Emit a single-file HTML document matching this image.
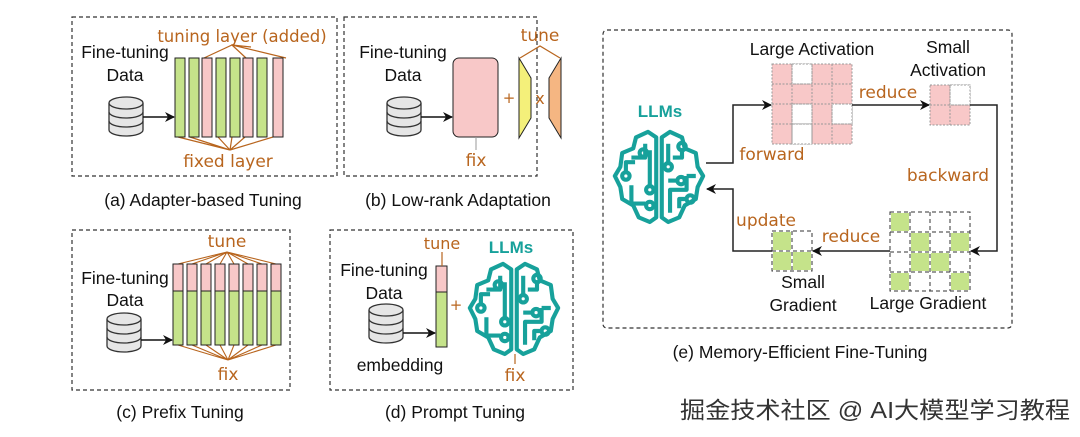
<!DOCTYPE html>
<html><head><meta charset="utf-8"><style>
html,body{margin:0;padding:0;background:#fff;}
svg{display:block;}
.t{font-family:"Liberation Sans",sans-serif;fill:#111;}
.o{font-family:"DejaVu Sans","Liberation Sans",sans-serif;fill:#b8651e;}
</style></head><body>
<svg width="1080" height="437" viewBox="0 0 1080 437" xmlns="http://www.w3.org/2000/svg">
<defs>
<marker id="ar" markerWidth="10" markerHeight="10" refX="9" refY="5" orient="auto" markerUnits="userSpaceOnUse"><path d="M0,0 L10,5 L0,10 L3,5 z" fill="#111"/></marker>
<g id="db">
<path d="M0,6 v27 a17,6 0 0 0 34,0 v-27" fill="#e6e6e6" stroke="#333" stroke-width="1.3"/>
<ellipse cx="17" cy="6" rx="17" ry="6" fill="#e6e6e6" stroke="#333" stroke-width="1.3"/>
<path d="M0,15 a17,6 0 0 0 34,0 M0,24 a17,6 0 0 0 34,0" fill="none" stroke="#333" stroke-width="1.3"/>
</g>
<g id="brain" fill="none" stroke="#17a19b" stroke-width="4.5" stroke-linejoin="round">
<path d="M47,8 L38,2 L25,8 L22,20 L10,25 L8,40 L2,50 L8,62 L10,75 L22,82 L28,95 L40,100 L47,95 Z"/>
<path d="M53,8 L62,2 L75,8 L78,20 L90,25 L92,40 L98,50 L92,62 L90,75 L78,82 L72,95 L60,100 L53,95 Z"/>
<path d="M20,30 H35 V15"/>
<path d="M14,45 V35 H24"/><circle cx="14" cy="50" r="4"/>
<path d="M40,22 V60"/><circle cx="40" cy="65" r="4"/>
<path d="M20,60 V80 H35"/><circle cx="40" cy="82" r="4"/>
<circle cx="33" cy="25" r="4"/>
<path d="M60,15 V35"/><circle cx="60" cy="40" r="4"/>
<path d="M65,30 H75 V22"/><circle cx="75" cy="18" r="4"/>
<path d="M60,55 H70"/><circle cx="74" cy="55" r="4"/>
<path d="M80,50 H90 M80,50 V65 H62 V90"/>
<path d="M72,85 V75 H80"/><circle cx="84" cy="75" r="4"/>
</g>
</defs>
<g fill="none" stroke="#333" stroke-width="1.2" stroke-dasharray="4,3">
<rect x="72" y="17" width="265" height="159"/>
<rect x="344" y="17" width="193" height="159"/>
<rect x="72" y="230" width="218" height="160"/>
<rect x="330" y="230" width="243" height="160"/>
<rect x="603" y="30" width="409" height="298" rx="4"/>
</g>
<!-- (a) -->
<text class="t" x="125" y="58" font-size="17.5" text-anchor="middle">Fine-tuning</text>
<text class="t" x="125" y="81" font-size="17.5" text-anchor="middle">Data</text>
<use href="#db" x="109" y="97"/>
<line x1="143" y1="117" x2="174" y2="117" stroke="#111" stroke-width="1.5" marker-end="url(#ar)"/>
<g stroke="#b8651e" stroke-width="1.2" fill="none">
<path d="M204,58 L232,45 L246,58 M232,45 L286,58 M232,45 L251,47"/>
<path d="M178,137 L230,150 L190,137 M230,150 L218,137 M230,150 L232,137 M230,150 L245,137 M230,150 L273,137"/>
</g>
<g stroke="#222" stroke-width="1">
<rect x="175" y="58" width="10" height="79" fill="#c5e38a"/>
<rect x="189" y="58" width="10" height="79" fill="#c5e38a"/>
<rect x="202" y="58" width="10" height="79" fill="#f8c8c8"/>
<rect x="216" y="58" width="10" height="79" fill="#c5e38a"/>
<rect x="230" y="58" width="10" height="79" fill="#c5e38a"/>
<rect x="243" y="58" width="10" height="79" fill="#f8c8c8"/>
<rect x="257" y="58" width="10" height="79" fill="#c5e38a"/>
<rect x="273" y="58" width="10" height="79" fill="#f8c8c8"/>
</g>
<text class="o" x="242" y="42" font-size="16.5" text-anchor="middle">tuning layer (added)</text>
<text class="o" x="228" y="167" font-size="17" text-anchor="middle">fixed layer</text>
<text class="t" x="203" y="206" font-size="17.5" text-anchor="middle">(a) Adapter-based Tuning</text>
<!-- (b) -->
<text class="t" x="403" y="58" font-size="17.5" text-anchor="middle">Fine-tuning</text>
<text class="t" x="403" y="81" font-size="17.5" text-anchor="middle">Data</text>
<use href="#db" x="387" y="97"/>
<line x1="421" y1="117" x2="452" y2="117" stroke="#111" stroke-width="1.5" marker-end="url(#ar)"/>
<rect x="453" y="58" width="45" height="79" rx="6" fill="#f8c8c8" stroke="#222" stroke-width="1"/>
<line x1="476" y1="137" x2="476" y2="150" stroke="#999" stroke-width="1"/>
<text class="o" x="476" y="166" font-size="17" text-anchor="middle">fix</text>
<text class="o" x="509" y="103" font-size="15" text-anchor="middle">+</text>
<polygon points="519,58 531,78 531,118 519,138" fill="#f4f07a" stroke="#222" stroke-width="1"/>
<text class="o" x="540" y="104" font-size="16" text-anchor="middle">x</text>
<polygon points="549,78 561,58 561,138 549,118" fill="#f5b682" stroke="#222" stroke-width="1"/>
<path d="M520,58 L540,46 L560,58" stroke="#b8651e" stroke-width="1.2" fill="none"/>
<text class="o" x="540" y="41" font-size="17" text-anchor="middle">tune</text>
<text class="t" x="458" y="206" font-size="17.5" text-anchor="middle">(b) Low-rank Adaptation</text>
<!-- (c) -->
<text class="t" x="125" y="284" font-size="17.5" text-anchor="middle">Fine-tuning</text>
<text class="t" x="125" y="306" font-size="17.5" text-anchor="middle">Data</text>
<use href="#db" x="107" y="313"/>
<line x1="141" y1="340" x2="172" y2="340" stroke="#111" stroke-width="1.5" marker-end="url(#ar)"/>
<g stroke="#b8651e" stroke-width="1.1" fill="none">
<path d="M178,264 L227,252 L192,264 M227,252 L206,264 M227,252 L220,264 M227,252 L234,264 M227,252 L248,264 M227,252 L262,264 M227,252 L276,264"/>
<path d="M178,345 L228,360 L192,345 M228,360 L206,345 M228,360 L220,345 M228,360 L234,345 M228,360 L248,345 M228,360 L262,345 M228,360 L276,345"/>
</g>
<g stroke="#222" stroke-width="1">
<rect x="173" y="264" width="10" height="27" fill="#f8c8c8"/><rect x="173" y="291" width="10" height="54" fill="#c5e38a"/>
<rect x="187" y="264" width="10" height="27" fill="#f8c8c8"/><rect x="187" y="291" width="10" height="54" fill="#c5e38a"/>
<rect x="201" y="264" width="10" height="27" fill="#f8c8c8"/><rect x="201" y="291" width="10" height="54" fill="#c5e38a"/>
<rect x="215" y="264" width="10" height="27" fill="#f8c8c8"/><rect x="215" y="291" width="10" height="54" fill="#c5e38a"/>
<rect x="229" y="264" width="10" height="27" fill="#f8c8c8"/><rect x="229" y="291" width="10" height="54" fill="#c5e38a"/>
<rect x="243" y="264" width="10" height="27" fill="#f8c8c8"/><rect x="243" y="291" width="10" height="54" fill="#c5e38a"/>
<rect x="257" y="264" width="10" height="27" fill="#f8c8c8"/><rect x="257" y="291" width="10" height="54" fill="#c5e38a"/>
<rect x="271" y="264" width="10" height="27" fill="#f8c8c8"/><rect x="271" y="291" width="10" height="54" fill="#c5e38a"/>
</g>
<text class="o" x="227" y="247" font-size="17" text-anchor="middle">tune</text>
<text class="o" x="228" y="380" font-size="17" text-anchor="middle">fix</text>
<text class="t" x="180" y="418" font-size="17.5" text-anchor="middle">(c) Prefix Tuning</text>
<!-- (d) -->
<text class="t" x="384" y="276" font-size="17.5" text-anchor="middle">Fine-tuning</text>
<text class="t" x="384" y="299" font-size="17.5" text-anchor="middle">Data</text>
<use href="#db" x="369" y="304"/>
<line x1="403" y1="333" x2="435" y2="333" stroke="#111" stroke-width="1.5" marker-end="url(#ar)"/>
<rect x="436" y="266" width="11" height="26" fill="#f8c8c8" stroke="#222" stroke-width="1"/>
<rect x="436" y="292" width="11" height="55" fill="#c5e38a" stroke="#222" stroke-width="1"/>
<line x1="442" y1="252" x2="442" y2="266" stroke="#b8651e" stroke-width="1.2"/>
<text class="o" x="442" y="249" font-size="16" text-anchor="middle">tune</text>
<text class="o" x="456" y="310" font-size="15" text-anchor="middle">+</text>
<use href="#brain" transform="translate(468,262) scale(0.92)"/>
<text x="511" y="253" font-size="17" font-weight="bold" text-anchor="middle" font-family="Liberation Sans,sans-serif" fill="#17a19b">LLMs</text>
<line x1="515" y1="354" x2="515" y2="364" stroke="#b8651e" stroke-width="1.2"/>
<text class="o" x="515" y="381" font-size="17" text-anchor="middle">fix</text>
<text class="t" x="400" y="371" font-size="17.5" text-anchor="middle">embedding</text>
<text class="t" x="455" y="418" font-size="17.5" text-anchor="middle">(d) Prompt Tuning</text>
<!-- (e) -->
<text class="t" x="812" y="55" font-size="17.5" text-anchor="middle">Large Activation</text>
<text class="t" x="948" y="53" font-size="17.5" text-anchor="middle">Small</text>
<text class="t" x="948" y="76" font-size="17.5" text-anchor="middle">Activation</text>
<g stroke="#999" stroke-width="1" stroke-dasharray="2,1.5">
<rect x="772" y="64" width="80" height="80" fill="#f8c8c8"/>
<rect x="792" y="64" width="20" height="20" fill="#fff"/>
<rect x="792" y="104" width="20" height="20" fill="#fff"/>
<rect x="832" y="104" width="20" height="20" fill="#fff"/>
<rect x="792" y="124" width="20" height="20" fill="#fff"/>
<path d="M772,84 H852 M772,104 H852 M772,124 H852 M792,64 V144 M812,64 V144 M832,64 V144" fill="none"/>
<rect x="930" y="85" width="40" height="40" fill="#f8c8c8"/>
<rect x="950" y="85" width="20" height="20" fill="#fff"/>
<path d="M930,105 H970 M950,85 V125" fill="none"/>
</g>
<g stroke="#333" stroke-width="1" stroke-dasharray="4,3" fill="none">
<rect x="890" y="212" width="80" height="79"/>
<path d="M890,232 H970 M890,252 H970 M890,272 H970 M910,212 V291 M930,212 V291 M950,212 V291"/>
<rect x="772" y="231" width="40" height="40"/>
<path d="M772,251 H812 M792,231 V271"/>
</g>
<g fill="#c5e38a">
<rect x="891" y="213" width="18" height="18"/><rect x="911" y="233" width="18" height="18"/><rect x="951" y="233" width="18" height="18"/>
<rect x="911" y="253" width="18" height="18"/><rect x="931" y="253" width="18" height="18"/>
<rect x="891" y="273" width="18" height="17"/><rect x="951" y="273" width="18" height="17"/>
<rect x="773" y="232" width="18" height="18"/><rect x="773" y="252" width="18" height="18"/><rect x="793" y="252" width="18" height="18"/>
</g>
<use href="#brain" transform="translate(613,130) scale(0.92)"/>
<text x="660" y="117" font-size="17" font-weight="bold" text-anchor="middle" font-family="Liberation Sans,sans-serif" fill="#17a19b">LLMs</text>
<g stroke="#222" stroke-width="1.5" fill="none">
<path d="M706,163 H733 V105 H771" marker-end="url(#ar)"/>
<path d="M852,105 H929" marker-end="url(#ar)"/>
<path d="M970,105 H997 V251 H971" marker-end="url(#ar)"/>
<path d="M890,251 H813" marker-end="url(#ar)"/>
<path d="M772,251 H733 V189 H707" marker-end="url(#ar)"/>
</g>
<text class="o" x="772" y="160" font-size="17" text-anchor="middle">forward</text>
<text class="o" x="888" y="98" font-size="17" text-anchor="middle">reduce</text>
<text class="o" x="948" y="181" font-size="17" text-anchor="middle">backward</text>
<text class="o" x="851" y="242" font-size="17" text-anchor="middle">reduce</text>
<text class="o" x="766" y="226" font-size="17" text-anchor="middle">update</text>
<text class="t" x="803" y="288" font-size="17.5" text-anchor="middle">Small</text>
<text class="t" x="803" y="311" font-size="17.5" text-anchor="middle">Gradient</text>
<text class="t" x="928" y="309" font-size="17.5" text-anchor="middle">Large Gradient</text>
<text class="t" x="800" y="358" font-size="17.5" text-anchor="middle">(e) Memory-Efficient Fine-Tuning</text>
<text x="680" y="418" font-size="23" textLength="390" lengthAdjust="spacingAndGlyphs" font-family="Liberation Sans,Noto Sans CJK SC,sans-serif" fill="#333">掘金技术社区 @ AI大模型学习教程</text>
</svg>
</body></html>
